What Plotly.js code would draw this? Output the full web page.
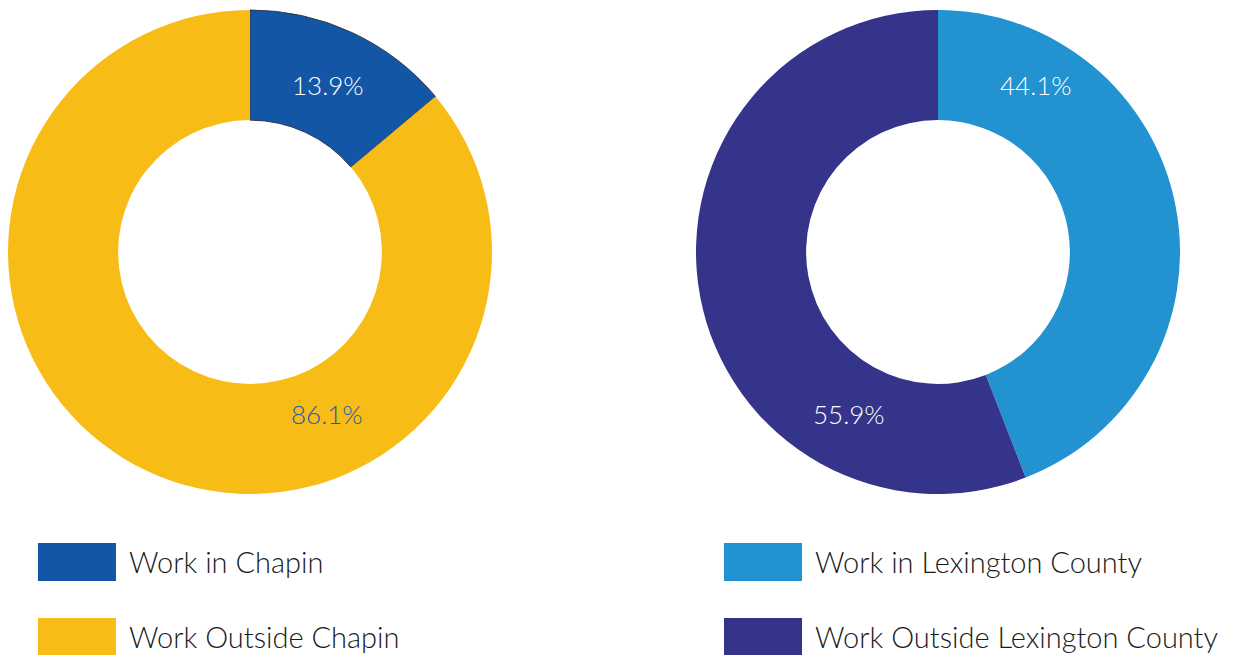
<!DOCTYPE html>
<html>
<head>
<meta charset="utf-8">
<script src="https://cdn.plot.ly/plotly-3.0.1.min.js"></script>
<style>
html,body{margin:0;padding:0;background:#fff;}
#chart{width:1234px;height:655px;}
</style>
</head>
<body>
<div id="chart"></div>
<script>
// ---- data ----
const chapinLabels = ["Work in Chapin", "Work Outside Chapin"];
const chapinValues = [13.9, 86.1];
const chapinColors = ["#1456A6", "#F8BC16"];
const chapinTextColors = ["#FFFFFF", "#1F5CA8"];

const lexLabels = ["Work in Lexington County", "Work Outside Lexington County"];
const lexValues = [44.1, 55.9];
const lexColors = ["#2292D0", "#34348A"];
const lexTextColors = ["#FFFFFF", "#FFFFFF"];

// ---- layout helpers (pixels -> paper) ----
const W = 1234, H = 655;
const px = x => x / W;
const py = y => 1 - y / H;
const FONT = "Lato, 'Open Sans', sans-serif";

function pieTrace(labels, values, colors, lineWidths, xd, yd) {
  return {
    type: "pie",
    labels: labels,
    values: values,
    sort: false,
    direction: "clockwise",
    rotation: 0,
    hole: 0.545,
    textinfo: "none",
    showlegend: false,
    hoverinfo: "label+percent",
    marker: {colors: colors, line: {color: "#333a4a", width: lineWidths}},
    domain: {x: xd, y: yd}
  };
}

const traces = [
  pieTrace(chapinLabels, chapinValues, chapinColors, [1, 0], [px(8), px(492)], [py(494), py(10)]),
  pieTrace(lexLabels, lexValues, lexColors, [0, 0], [px(696), px(1180)], [py(494), py(10)])
];

// percent label positions (pixels) for each slice
const chapinLabelPos = [[328, 85], [327, 414]];
const lexLabelPos = [[1036, 85], [849, 414]];

const annotations = [];
const shapes = [];
function addPctLabels(values, pos, colors) {
  values.forEach((v, i) => {
    annotations.push({
      xref: "paper", yref: "paper", x: px(pos[i][0]), y: py(pos[i][1]),
      xanchor: "center", yanchor: "middle", showarrow: false,
      text: v.toFixed(1) + "%",
      font: {family: FONT, size: 26, weight: 300, color: colors[i]}
    });
  });
}
addPctLabels(chapinValues, chapinLabelPos, chapinTextColors);
addPctLabels(lexValues, lexLabelPos, lexTextColors);

function addLegend(labels, colors, x0) {
  const rowsY = [[543, 581], [618, 655]];
  labels.forEach((lab, i) => {
    shapes.push({
      type: "rect", xref: "paper", yref: "paper",
      x0: px(x0), x1: px(x0 + 78), y0: py(rowsY[i][1]), y1: py(rowsY[i][0]),
      fillcolor: colors[i], line: {width: 0}
    });
    annotations.push({
      xref: "paper", yref: "paper", x: px(x0 + 89), y: py((rowsY[i][0] + rowsY[i][1]) / 2 - 0.5),
      xanchor: "left", yanchor: "middle", showarrow: false,
      text: lab,
      font: {family: FONT, size: 29, weight: 300, color: "#1a1a1a"}
    });
  });
}
addLegend(chapinLabels, chapinColors, 38);
addLegend(lexLabels, lexColors, 724);

const layout = {
  width: W, height: H,
  margin: {l: 0, r: 0, t: 0, b: 0},
  paper_bgcolor: "#ffffff",
  plot_bgcolor: "#ffffff",
  showlegend: false,
  annotations: annotations,
  shapes: shapes,
  font: {family: FONT}
};

Plotly.newPlot("chart", traces, layout, {displayModeBar: false, staticPlot: true});
</script>
</body>
</html>
